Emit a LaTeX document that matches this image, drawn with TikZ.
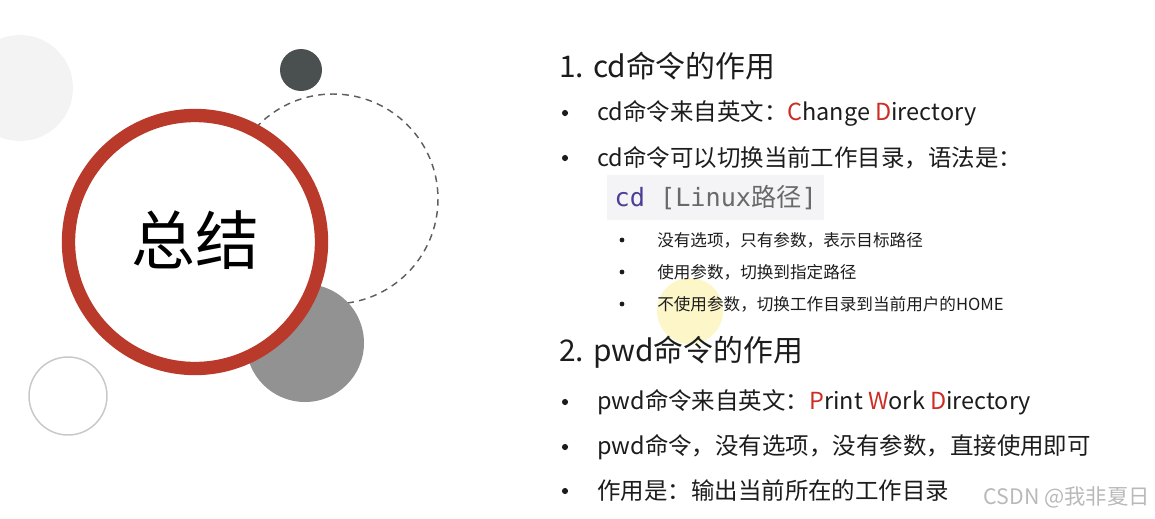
\documentclass[tikz,border=0pt]{standalone}
\usepackage{fontspec}
\setmainfont{Noto Sans CJK SC}
\newfontfamily\codefont{DejaVu Sans Mono}
\newfontfamily\cjk{Noto Sans CJK SC}
\usepackage{xcolor}

\definecolor{ringred}{RGB}{185,57,42}
\definecolor{keyred}{RGB}{205,45,35}
\definecolor{darkdot}{RGB}{74,79,80}
\definecolor{midgray}{RGB}{146,146,146}
\definecolor{fadegray}{RGB}{243,243,243}
\definecolor{rimgray}{RGB}{200,200,200}
\definecolor{dashgray}{RGB}{95,95,95}
\definecolor{codebg}{RGB}{244,244,246}
\definecolor{codeblue}{RGB}{75,62,150}
\definecolor{codegray}{RGB}{105,105,105}
\definecolor{textblack}{RGB}{28,28,28}
\definecolor{cursor}{RGB}{250,240,165}
\newcommand{\key}[1]{\textcolor{keyred}{#1}}

\begin{document}
\begin{tikzpicture}[x = 0.75pt, y = -0.75pt,
		title/.style = {anchor = west, inner sep = 0pt, text = textblack, font = \fontsize{22.4}{25}\selectfont},
		item/.style = {anchor = west, inner sep = 0pt, text = textblack, font = \fontsize{17.6}{21}\selectfont},
		subitem/.style = {anchor = west, inner sep = 0pt, text = textblack, font = \fontsize{12.45}{15}\selectfont},
		bullet/.style = {circle, fill = textblack, inner sep = 0pt, minimum size = 4.6pt},
		subbullet/.style = {circle, fill = textblack, inner sep = 0pt, minimum size = 3.6pt}]
			\useasboundingbox (0,0) rectangle (1155,518);

			\begin{scope}
				\fill [fadegray] (20,88) circle (53);
				\fill [darkdot] (301,70) circle (21);
				\draw [dashgray, line width = 1.1pt, dash pattern = on 5pt off 4pt] (333,199) circle (105);
				\fill [midgray] (305,343) circle (59);
				\draw [rimgray, line width = 1.1pt] (68,396) circle (39);
				\draw [ringred, line width = 10pt, fill = white] (195,242) circle (126.5);
			\end{scope}

			\node [font = \fontsize{48}{52}\selectfont, text = black] (summary) at (195,240) {总结};

			\fill [cursor, opacity = 0.6] (690,311) circle (33);

			\begin{scope}
				\foreach \y in {113,158,402,447,491}
				{
					\node [bullet] (b-\y) at (565,\y) {};
				}

				\foreach \y in {240,272,304}
				{
					\node [subbullet] (s-\y) at (622,\y) {};
				}
			\end{scope}

			\begin{scope}
				\node [title] (cdtitle) at (559,66) {1. cd命令的作用};
				\node [item] (cdfrom) at (597,113) {cd命令来自英文：\key{C}hange \key{D}irectory};
				\node [item] (cdswitch) at (597,158) {cd命令可以切换当前工作目录，语法是：};
				\node [anchor = west, fill = codebg, inner xsep = 5.5pt, minimum height = 33.75pt,
					text = codegray, font = \codefont\fontsize{18.9}{21}\selectfont] (syntax) at (607,197.5)
					{\textcolor{codeblue}{cd} [Linux{\cjk 路径}]};
				\node [subitem] (noopt) at (657,240) {没有选项，只有参数，表示目标路径};
				\node [subitem] (witharg) at (657,272) {使用参数，切换到指定路径};
				\node [subitem] (noarg) at (657,304) {不使用参数，切换工作目录到当前用户的HOME};
			\end{scope}

			\begin{scope}
				\node [title] (pwdtitle) at (559,352) {2. pwd命令的作用};
				\node [item] (pwdfrom) at (597,402) {pwd命令来自英文：\key{P}rint \key{W}ork \key{D}irectory};
				\node [item] (pwdplain) at (597,447) {pwd命令，没有选项，没有参数，直接使用即可};
				\node [item] (pwdout) at (597,491) {作用是：输出当前所在的工作目录};
			\end{scope}

			\node [anchor = east, inner sep = 0pt, text = gray!55, font = \fontsize{16}{19}\selectfont] (mark) at (1150,497) {CSDN @我非夏日};
		\end{tikzpicture}
\end{document}
